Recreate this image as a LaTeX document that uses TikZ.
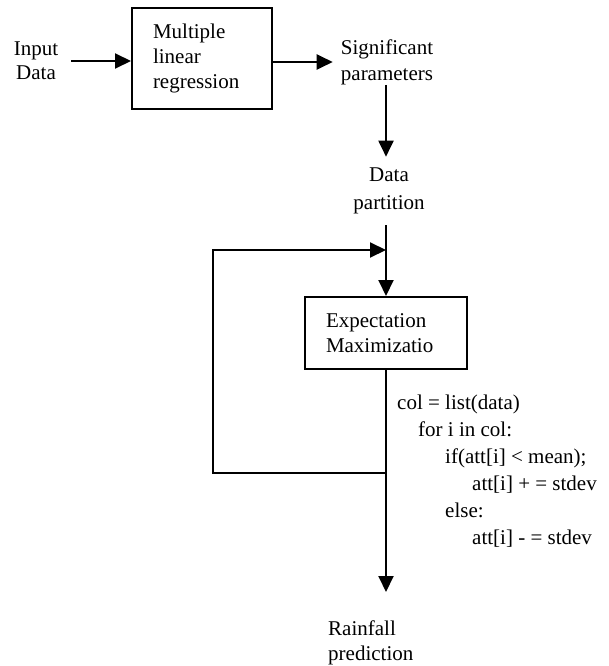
\documentclass[tikz,border=0pt]{standalone}
\usepackage{fontspec}
\setmainfont{Liberation Serif}
\usetikzlibrary{arrows.meta,positioning,calc}

\begin{document}
\begin{tikzpicture}[
    x=1pt, y=-1pt,
    label/.style={inner sep=0pt, align=center, font=\fontsize{21}{24}\selectfont},
    block/.style={draw, rectangle, line width=2pt, inner xsep=21pt, inner ysep=0pt, align=left, font=\fontsize{21}{25}\selectfont},
    code/.style={inner sep=0pt, align=left, font=\fontsize{21}{27}\selectfont},
    arrow/.style={-{Triangle[length=16pt,width=15pt]}, line width=2pt},
    link/.style={line width=2pt}
]
    \useasboundingbox (0,0) rectangle (608,666);

    % Regression stage (top)
    \node [label, inner xsep=13pt] (input) at (36,61) {Input\\Data};
    \node [block, text width=98pt, minimum width=140pt, minimum height=101pt] (mlr) at (202,58.5) {Multiple\\linear\\regression};
    \node [label, inner xsep=8pt, align=left, font=\fontsize{21}{26}\selectfont] (params) at (387,62) {Significant\\parameters};

    % Partition and EM stage
    \node [label, inner ysep=11pt, font=\fontsize{21}{28}\selectfont] (partition) at (389,191) {Data\\partition};
    \node [block, text width=120pt, minimum width=162pt, minimum height=72pt] (em) at (386,333) {Expectation\\Maximizatio};
    \node [code, anchor=north west] (rule) at (397,394.5) {col = list(data)\\
        \hspace*{21pt}for i in col:\\
        \hspace*{48pt}if(att[i] < mean);\\
        \hspace*{75pt}att[i] + = stdev\\
        \hspace*{48pt}else:\\
        \hspace*{75pt}att[i] - = stdev};
    \node [label, anchor=west, align=left, font=\fontsize{21}{25}\selectfont] (rain) at (328,643) {Rainfall\\prediction};

    \coordinate (merge) at (386,250);
    \coordinate (fork) at (386,473);
    \coordinate (tip) at (386,592);

    % Connections
    \draw [arrow] (input.east) -- (input.east -| mlr.west);
    \draw [arrow] (mlr.east |- params.west) -- (params.west);
    \draw [arrow] (params.south -| merge) -- (partition.north -| merge);
    \draw [arrow] (partition.south -| em.north) -- (em.north);
    \draw [arrow] (em.south) -- (tip);

    % Feedback loop
    \draw [arrow] (fork) -- ++(-173,0) |- (merge);
\end{tikzpicture}
\end{document}
